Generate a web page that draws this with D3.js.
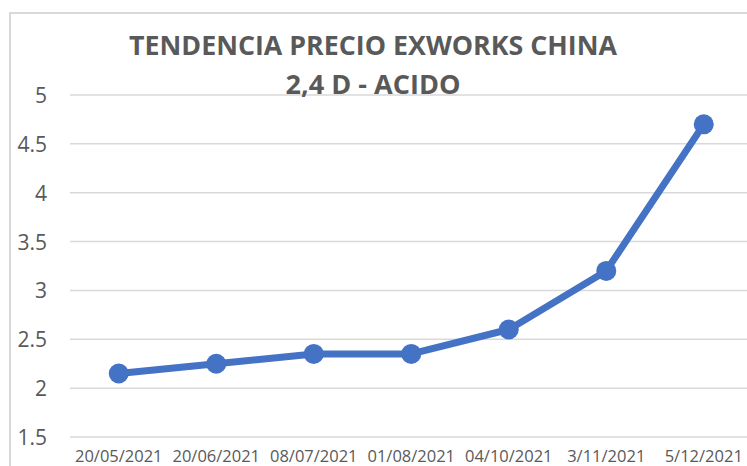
<!DOCTYPE html>
<html>
<head>
<meta charset="utf-8">
<script src="https://cdn.jsdelivr.net/npm/d3@7"></script>
<style>
  body { margin: 0; background: #fff; }
  svg { display: block; }
</style>
</head>
<body>
<svg width="747" height="466"></svg>
<script>
// data
var fechas = ["20/05/2021", "20/06/2021", "08/07/2021", "01/08/2021", "04/10/2021", "3/11/2021", "5/12/2021"];
var precios = [2.15, 2.25, 2.35, 2.35, 2.6, 3.2, 4.7];
var yTicks = [1.5, 2, 2.5, 3, 3.5, 4, 4.5, 5];
var tituloLineas = ["TENDENCIA PRECIO EXWORKS CHINA", "2,4 D - ACIDO"];

var svg = d3.select("svg");
var gris = "#595959";

// chart border (cropped at right and bottom)
svg.append("rect")
	.attr("x", 10)
	.attr("y", 13)
	.attr("width", 800)
	.attr("height", 500)
	.attr("fill", "#fff")
	.attr("stroke", "#d9d9d9")
	.attr("stroke-width", 2);

var xScale = d3.scaleBand()
	.domain(fechas)
	.range([70, 752.5])
	.padding(0);

var yScale = d3.scaleLinear()
	.domain([1.5, 5])
	.range([437, 95]);

// gridlines
svg.append("g")
	.selectAll("line")
	.data(yTicks)
	.enter()
	.append("line")
	.attr("x1", 70)
	.attr("x2", 760)
	.attr("y1", function(d) { return yScale(d); })
	.attr("y2", function(d) { return yScale(d); })
	.attr("stroke", "#d9d9d9")
	.attr("stroke-width", 1.5);

// y axis labels
var yAxis = d3.axisLeft(yScale)
	.tickValues(yTicks)
	.tickSize(0)
	.tickPadding(0)
	.tickFormat(d3.format("~g"));

var gy = svg.append("g")
	.attr("transform", "translate(47,0)")
	.call(yAxis);
gy.select(".domain").remove();
gy.selectAll("text")
	.attr("fill", gris)
	.attr("dy", "0.36em")
	.style("font-family", "'Open Sans', sans-serif")
	.style("font-size", "21px");

// x axis labels
var xAxis = d3.axisBottom(xScale)
	.tickSize(0)
	.tickPadding(0);

var gx = svg.append("g")
	.attr("transform", "translate(0,461.5)")
	.call(xAxis);
gx.select(".domain").remove();
gx.selectAll("text")
	.attr("fill", gris)
	.attr("y", 0)
	.attr("dy", 0)
	.style("font-family", "'Open Sans', sans-serif")
	.style("font-size", "16.5px");

// line
var line = d3.line()
	.x(function(d, i) { return xScale(fechas[i]) + xScale.bandwidth() / 2; })
	.y(function(d) { return yScale(d); });

svg.append("path")
	.datum(precios)
	.attr("d", line)
	.attr("fill", "none")
	.attr("stroke", "#4472C4")
	.attr("stroke-width", 7)
	.attr("stroke-linejoin", "round");

svg.selectAll("circle.punto")
	.data(precios)
	.enter()
	.append("circle")
	.attr("class", "punto")
	.attr("cx", function(d, i) { return xScale(fechas[i]) + xScale.bandwidth() / 2; })
	.attr("cy", function(d) { return yScale(d); })
	.attr("r", 10)
	.attr("fill", "#4472C4");

// title
svg.selectAll("text.titulo")
	.data(tituloLineas)
	.enter()
	.append("text")
	.attr("class", "titulo")
	.attr("x", 373)
	.attr("y", function(d, i) { return 55 + i * 38.5; })
	.attr("text-anchor", "middle")
	.attr("fill", gris)
	.attr("textLength", function(d, i) { return i == 0 ? 488 : 175; })
	.attr("lengthAdjust", "spacingAndGlyphs")
	.style("font-family", "'Open Sans', sans-serif")
	.style("font-weight", "bold")
	.style("font-size", "26px")
	.text(function(d) { return d; });
</script>
</body>
</html>
